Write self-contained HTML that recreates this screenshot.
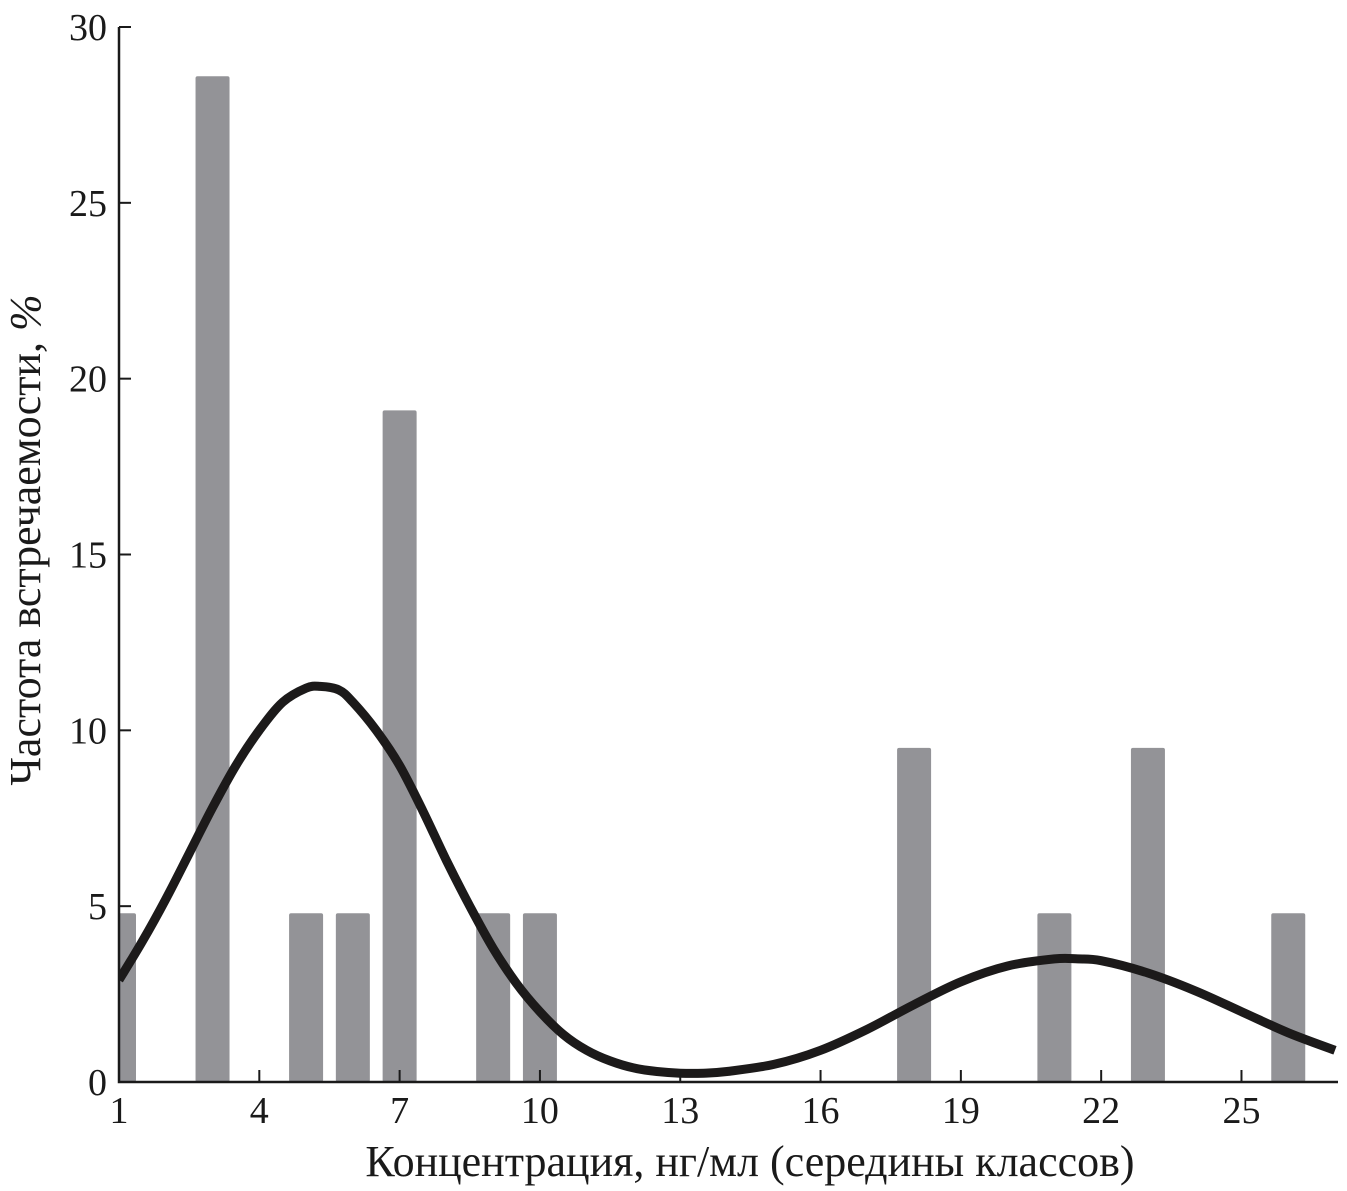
<!DOCTYPE html>
<html><head><meta charset="utf-8"><style>
html,body{margin:0;padding:0;background:#fff;}
svg{display:block;font-family:"Liberation Serif",serif;}
</style></head><body>
<svg id="chart" width="1347" height="1191"></svg>
<script>
const tickX=[1,4,7,10,13,16,19,22,25];
const tickY=[0,5,10,15,20,25,30];
const binCenters=[1,3,5,6,7,9,10,18,21,23,26];
const freq=[4.8,28.6,4.8,4.8,19.1,4.8,4.8,9.5,4.8,9.5,4.8];
const curveX=[1,1.5,2,2.5,3,3.5,4,4.5,5,5.3,5.7,6,6.5,7,7.5,8,8.5,9,9.5,10,10.5,11,11.5,12,12.5,13,13.5,14,15,16,17,18,19,20,21,21.5,22,23,24,25,26,27];
const curveY=[2.9,4.0,5.2,6.5,7.8,9.0,10.0,10.8,11.2,11.25,11.15,10.8,10.0,9.0,7.7,6.3,5.0,3.8,2.8,2.0,1.35,0.9,0.6,0.4,0.3,0.25,0.25,0.3,0.5,0.9,1.5,2.2,2.85,3.3,3.5,3.5,3.45,3.1,2.6,2.0,1.4,0.9];
const X0=119,Y0=1082,XR=1338,YT=27;
const sx=v=>X0+(v-1)*46.77;
const sy=v=>Y0-v*(Y0-YT)/30;
const NS="http://www.w3.org/2000/svg";
const svg=document.getElementById('chart');
function mk(t,a){const e=document.createElementNS(NS,t);for(const k in a)e.setAttribute(k,a[k]);svg.appendChild(e);return e;}
const defs=mk('defs',{});
const cp=document.createElementNS(NS,'clipPath');cp.setAttribute('id','pc');
const cr=document.createElementNS(NS,'rect');cr.setAttribute('x',X0);cr.setAttribute('y',0);cr.setAttribute('width',XR-X0);cr.setAttribute('height',Y0);
cp.appendChild(cr);defs.appendChild(cp);
binCenters.forEach((c,i)=>{
  const b=mk('rect',{x:sx(c)-17,y:sy(freq[i]),width:34,height:Y0-sy(freq[i]),rx:2,fill:'#939397','clip-path':'url(#pc)'});
  
  
});
const P=curveX.map((x,i)=>[sx(x),sy(curveY[i])]);
let d='M'+P[0][0].toFixed(1)+','+P[0][1].toFixed(1);
for(let i=0;i<P.length-1;i++){
  const p0=P[Math.max(i-1,0)],p1=P[i],p2=P[i+1],p3=P[Math.min(i+2,P.length-1)];
  const c1=[p1[0]+(p2[0]-p0[0])/6,p1[1]+(p2[1]-p0[1])/6];
  const c2=[p2[0]-(p3[0]-p1[0])/6,p2[1]-(p3[1]-p1[1])/6];
  d+=`C${c1[0].toFixed(1)},${c1[1].toFixed(1)} ${c2[0].toFixed(1)},${c2[1].toFixed(1)} ${p2[0].toFixed(1)},${p2[1].toFixed(1)}`;
}
const cv=mk('path',{d:d,fill:'none',stroke:'#1c1a1a','stroke-width':9,'stroke-linejoin':'round','clip-path':'url(#pc)'});


const ax=mk('path',{d:`M${X0},${YT}V${Y0}H${XR}`,fill:'none',stroke:'#1a1a1a','stroke-width':2.5});


tickX.forEach(v=>{
  mk('line',{x1:sx(v),x2:sx(v),y1:Y0,y2:Y0-12,stroke:'#1a1a1a','stroke-width':2});
  const t=mk('text',{x:sx(v),y:Y0+41,'text-anchor':'middle','font-size':38,fill:'#1a1a1a'});t.textContent=v;
  
  
});
tickY.forEach(v=>{
  mk('line',{x1:X0,x2:X0+12,y1:sy(v),y2:sy(v),stroke:'#1a1a1a','stroke-width':2});
  const t=mk('text',{x:X0-12,y:sy(v)+13,'text-anchor':'end','font-size':38,fill:'#1a1a1a'});t.textContent=v;
  
  
});
const xt=mk('text',{x:750,y:1176,'text-anchor':'middle','font-size':44,fill:'#1a1a1a'});
xt.textContent='Концентрация, нг/мл (середины классов)';


const yt=mk('text',{x:0,y:0,'text-anchor':'middle','font-size':44,fill:'#1a1a1a',transform:'translate(40,540) rotate(-90)'});
yt.innerHTML='Частота встречаемости, <tspan font-style="italic">%</tspan>';


</script>
</body></html>
